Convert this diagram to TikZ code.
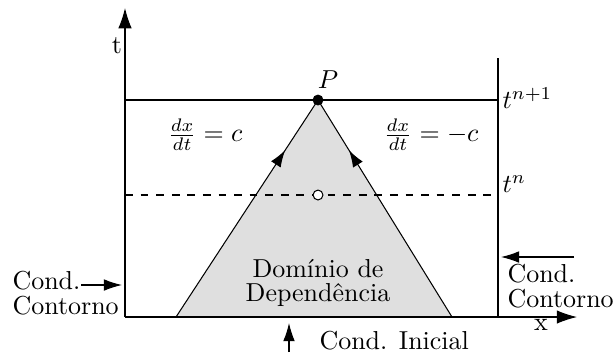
\documentclass[tikz,border=0pt]{standalone}
\usetikzlibrary{arrows.meta,decorations.markings}
\begin{document}
\begin{tikzpicture}[x=0.385pt,y=-0.385pt,
  thinln/.style={line width=0.4pt},
  thickln/.style={line width=1.1pt},
  axisarrow/.style={line width=0.4pt,-{Latex[length=7.8pt,width=5.2pt]}},
  bcarrow/.style={line width=0.4pt,-{Latex[length=7pt,width=4.5pt]}},
  lbl/.style={inner sep=0pt},
  twoline/.style={inner sep=0pt,align=left},
  midarrow/.style={postaction={decorate},decoration={markings,mark=at position #1 with {\arrow{Latex[length=6.5pt,width=4.4pt]}}}}
]
\useasboundingbox (0,0) rectangle (614,356);
% key points
\coordinate (O) at (125,317);
\coordinate (Ltop) at (125,58);
\coordinate (Tend) at (125,8);
\coordinate (Xend) at (577,317);
\coordinate (Rbot) at (498,317);
\coordinate (Rtop) at (498,58);
\coordinate (N1L) at (125,100);
\coordinate (N1R) at (498,100);
\coordinate (NL) at (125,195);
\coordinate (NR) at (498,195);
\coordinate (A) at (176,317);
\coordinate (B) at (452,317);
\coordinate (P) at (318,100);
\coordinate (Q) at (318,195);
% domain of dependence
\fill[gray!25] (A) -- (P) -- (B) -- cycle;
\draw[thinln] (A) -- (P) -- (B);
\path[midarrow=0.77] (A) -- (P);
\path[midarrow=0.77] (B) -- (P);
% lines
\draw[thinln,dashed] (NL) -- (NR);
\draw[thinln] (N1L) -- (N1R);
\draw[thickln] (O) -- (Ltop);
\draw[axisarrow] (Ltop) -- (Tend);
\draw[axisarrow] (O) -- (Xend);
\draw[thickln] (Rbot) -- (Rtop);
% points
\fill (P) circle (2.1pt);
\draw[thinln,fill=white] (Q) circle (1.9pt);
% labels
\node[lbl] (tl) at (117,46) {t};
\node[lbl] (xl) at (541,325) {x};
\node[lbl] (Pl) at (328,80) {$P$};
\node[lbl,anchor=west] (tn1) at (502,98) {$t^{n+1}$};
\node[lbl,anchor=west] (tn) at (502,184) {$t^{n}$};
\node[lbl] (eq1) at (205,135) {$\frac{dx}{dt}=c$};
\node[lbl] (eq2) at (431,135) {$\frac{dx}{dt}=-c$};
\node[inner sep=0pt,align=center] (dom) at (318,283) {Domínio de\\[-2.6pt]Dependência};
% boundary conditions
\node[twoline,anchor=north west] (lbc) at (12,271) {Cond.\\[-2.6pt]Contorno};
\coordinate (la1) at (81,285);
\coordinate (la2) at (122,285);
\draw[bcarrow] (la1) -- (la2);
\coordinate (ra1) at (574,257);
\coordinate (ra2) at (501,257);
\draw[bcarrow] (ra1) -- (ra2);
\node[twoline,anchor=north west] (rbc) at (507,264) {Cond.\\[-2.6pt]Contorno};
\coordinate (ba1) at (289,352);
\coordinate (ba2) at (289,323);
\draw[bcarrow] (ba1) -- (ba2);
\node[lbl,anchor=west] (ic) at (319,341) {Cond. Inicial};
\end{tikzpicture}
\end{document}
